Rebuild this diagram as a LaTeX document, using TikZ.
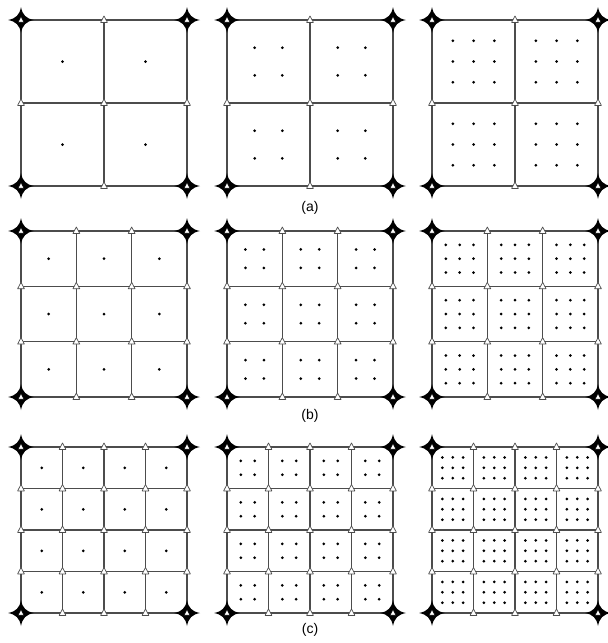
\documentclass[tikz,border=0pt]{standalone}
\usepackage{fontspec}
\setmainfont{Liberation Sans}
\tikzset{
  corner star/.pic={
    \fill[black] (0,-13) .. controls (1.5,-5) and (5,-1.5) .. (13,0)
      .. controls (5,1.5) and (1.5,5) .. (0,13)
      .. controls (-1.5,5) and (-5,1.5) .. (-13,0)
      .. controls (-5,-1.5) and (-1.5,-5) .. cycle;
    \filldraw[fill=white, draw=black, line width=0.4pt] (0,-3.2) -- (2.8,2) -- (-2.8,2) -- cycle;
  },
  edge mark/.pic={
    \filldraw[fill=white, draw=black!70, line width=0.7pt] (0,-4) -- (3.4,2.4) -- (-3.4,2.4) -- cycle;
  }
}
\begin{document}
\begin{tikzpicture}[x=1pt, y=-1pt, line cap=round, line join=round,
  grid line/.style={draw=black!70, line width=1.3pt},
  seed dot/.style={fill=black},
  panel label/.style={font=\fontsize{14}{16}\selectfont}]
  \useasboundingbox (0,0) rectangle (608,643);

  % rows (a), (b), (c): top edge and cells per side
  \foreach \row/\top/\n in {a/20/2, b/231/3, c/447/4} {
    % columns: left edge and seeds per cell side
    \foreach \left/\k in {21/1, 227/2, 432/3} {
      \pgfmathsetmacro{\s}{166/\n}
      % grid
      \foreach \i in {0,...,\n} {
        \draw[grid line] ({\left+\i*\s},\top) -- ++(0,166);
        \draw[grid line] (\left,{\top+\i*\s}) -- ++(166,0);
      }
      % seeds inside each cell
      \foreach \ci in {1,...,\n} {
        \foreach \cj in {1,...,\n} {
          \foreach \di in {1,...,\k} {
            \foreach \dj in {1,...,\k} {
              \fill[seed dot] ({\left+(\ci-1)*\s+\di*\s/(\k+1)},{\top+(\cj-1)*\s+\dj*\s/(\k+1)}) circle (1.5);
            }
          }
        }
      }
      % nodes on the grid
      \foreach \i in {0,...,\n} {
        \foreach \j in {0,...,\n} {
          \pgfmathtruncatemacro{\isend}{(\i==0 || \i==\n) && (\j==0 || \j==\n)}
          \ifnum\isend=1
            \pic at ({\left+\i*\s},{\top+\j*\s}) {corner star};
          \else
            \pic at ({\left+\i*\s},{\top+\j*\s}) {edge mark};
          \fi
        }
      }
    }
  }

  % captions
  \node[panel label] (capa) at (310,208) {(a)};
  \node[panel label] (capb) at (310,416) {(b)};
  \node[panel label] (capc) at (310,630) {(c)};
\end{tikzpicture}
\end{document}
